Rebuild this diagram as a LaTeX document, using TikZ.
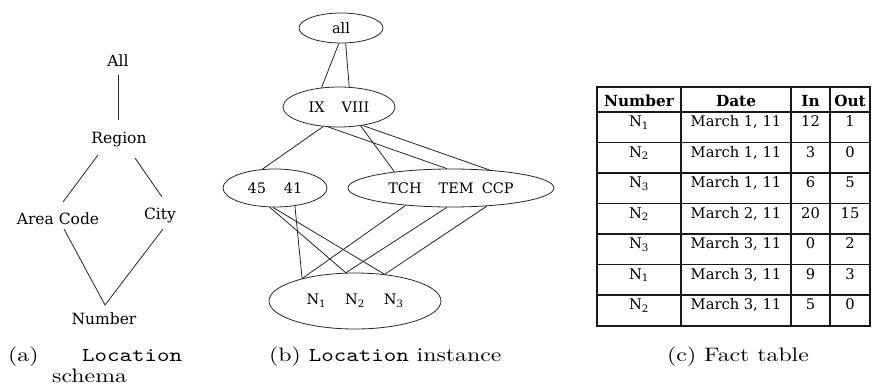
\documentclass[tikz,border=0pt]{standalone}
\usepackage{fontspec}
\setmainfont{DejaVu Serif}
% serif face for the diagrams and the table
\newfontfamily\diagserif{DejaVu Serif}
% caption faces (Latin Modern)
\newfontfamily\caprm{lmroman10-regular.otf}[FakeStretch=1.22]
\newfontfamily\captt{lmmono10-regular.otf}[FakeStretch=1.22]
\usetikzlibrary{calc,shapes.geometric}

\begin{document}
\begin{tikzpicture}[x=1pt,y=-1pt,
  lbl/.style={font=\diagserif\fontsize{15.5}{18}\selectfont, inner sep=0pt, anchor=base},
  edge/.style={draw=black!85, line width=0.8pt},
  oval/.style={ellipse, draw=black!85, line width=0.8pt, inner sep=0pt,
    font=\diagserif\fontsize{14.5}{17}\selectfont},
  cell/.style={font=\diagserif\fontsize{14.7}{17}\selectfont, inner sep=0pt, anchor=base},
  head/.style={font=\diagserif\bfseries\fontsize{15.3}{17}\selectfont, inner sep=0pt, anchor=base},
  rule/.style={line width=1.2pt, black!90},
  captext/.style={font=\caprm\fontsize{19.5}{23}\selectfont, inner sep=0pt, anchor=base west}]
\useasboundingbox (0,0) rectangle (873,391);

% ---- (a) schema hierarchy ----
\node[lbl] (all)    at (118,66)  {All};
\node[lbl] (region) at (119,143) {Region};
\node[lbl] (area)   at (58,224)  {Area Code};
\node[lbl] (city)   at (160,219) {City};
\node[lbl] (number) at (104,324) {Number};
\draw[edge] ($(all.base)+(0,9)$) -- ($(region.base)+(-1,-23)$);
\draw[edge] ($(region.base)+(-21,12)$) -- ($(area.base)+(5,-22)$);
\draw[edge] ($(region.base)+(16,15)$) -- ($(city.base)+(2,-22)$);
\draw[edge] ($(area.base)+(6,5)$) -- ($(number.base)+(1,-19)$) -- ($(city.base)+(3,10)$);

% ---- (b) instance graph ----
\node[oval, minimum width=84,  minimum height=30] (top)    at (341,28)  {all};
\node[oval, minimum width=112, minimum height=40] (reg)    at (339,107) {IX\hspace{17pt}VIII};
\node[oval, minimum width=104, minimum height=38] (codes)  at (275,188) {45\hspace{18pt}41};
\node[oval, minimum width=206, minimum height=38] (cities) at (451,188) {TCH\hspace{17pt}TEM\hspace{8pt}CCP};
\node[oval, minimum width=172, minimum height=56] (nums)   at (355,301)
  {N\textsubscript{1}\hspace{19pt}N\textsubscript{2}\hspace{19pt}N\textsubscript{3}};

\draw[edge] (top.-98) -- (reg.132);
\draw[edge] (top.-73) -- (reg.63);
\draw[edge] (reg.-129) -- (codes.124);
\draw[edge] (reg.-118) -- (cities.102);
\draw[edge] (reg.-41) -- (cities.164);
\draw[edge] (reg.-38) -- (cities.25);
\draw[edge] (codes.-105) -- (nums.108);
\draw[edge] (codes.-96) -- (nums.42);
\draw[edge] (codes.-42) -- (nums.157);
\draw[edge] (cities.-159) -- (nums.157);
\draw[edge] (cities.-102) -- (nums.108);
\draw[edge] (cities.-27) -- (nums.42);

% ---- (c) fact table ----
\draw[rule] (597,87) rectangle (870,326);
\foreach \yy in {112,142.5,173,203.5,234,264.5,295}
  \draw[rule] (597,\yy) -- (870,\yy);
\foreach \xx in {681,791,830}
  \draw[rule] (\xx,87) -- (\xx,326);

\node[head] (hnum)  at (639,106.5)   {Number};
\node[head] (hdate) at (736,106.5)   {Date};
\node[head] (hin)   at (810.5,106.5) {In};
\node[head] (hout)  at (850,106.5)   {Out};

\foreach [count=\r] \nn/\dd/\ii/\oo in {
    1/{March 1, 11}/12/1,
    2/{March 1, 11}/3/0,
    3/{March 1, 11}/6/5,
    2/{March 2, 11}/20/15,
    3/{March 3, 11}/0/2,
    1/{March 3, 11}/9/3,
    2/{March 3, 11}/5/0}{
  \node[cell] (n\r) at (639,{126.5+30.5*(\r-1)})   {N\textsubscript{\nn}};
  \node[cell] (d\r) at (736,{126.5+30.5*(\r-1)})   {\dd};
  \node[cell] (i\r) at (810.5,{126.5+30.5*(\r-1)}) {\ii};
  \node[cell] (o\r) at (850,{126.5+30.5*(\r-1)})   {\oo};
}

% ---- captions ----
\node[captext] (capa)  at (8,361)   {(a)};
\node[captext] (capal) at (82,361)  {\captt Location};
\node[captext] (capas) at (52,382)  {schema};
\node[captext] (capb)  at (269,361) {(b) {\captt Location} instance};
\node[captext] (capc)  at (667,361) {(c) Fact table};
\end{tikzpicture}
\end{document}
